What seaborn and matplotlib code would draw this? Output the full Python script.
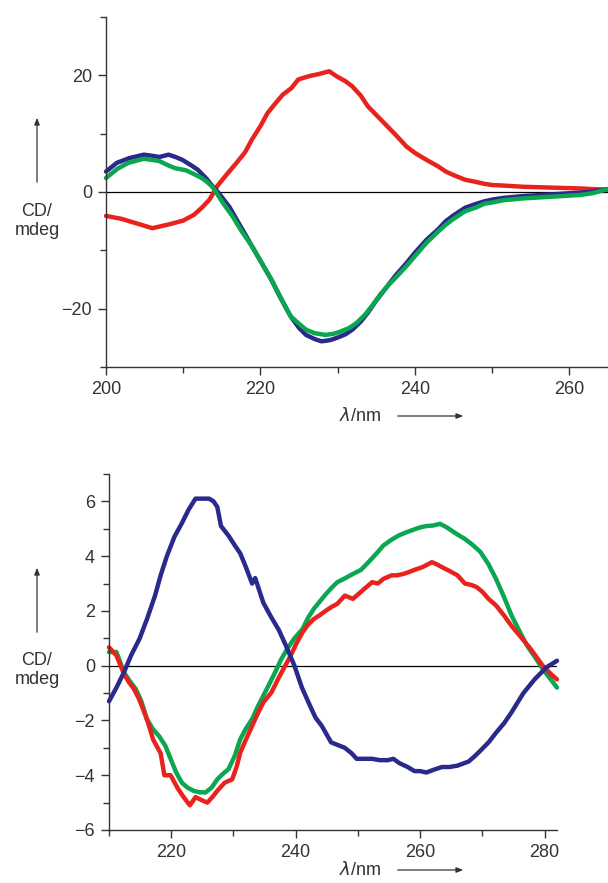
import matplotlib

matplotlib.use("Agg")
import matplotlib.pyplot as plt  # noqa: E402
import seaborn as sns  # noqa: E402
import pandas as pd  # noqa: E402
from matplotlib.ticker import MultipleLocator  # noqa: E402

# --- top panel data (lambda / nm, CD / mdeg) ---
top_red_x = [200, 202, 204, 206, 208, 210, 211.4, 212.4, 213.4, 214.4, 215.5, 216.9, 218, 218.9,
             220, 220.9, 222, 222.9, 224, 224.9, 226.4, 227.5, 228.9, 229.9, 231, 231.9, 233,
             233.9, 235, 236.4, 237.5, 238.9, 240, 241.5, 243, 244, 245, 246.5, 248, 249, 250,
             251.5, 254, 256.5, 259, 261.5, 263, 265]
top_red_y = [-4.1, -4.6, -5.4, -6.2, -5.6, -4.9, -3.9, -2.7, -1.3, 1.0, 2.8, 5.0, 6.8, 9.0,
             11.3, 13.5, 15.3, 16.7, 17.8, 19.3, 19.9, 20.2, 20.7, 19.8, 19.0, 18.1, 16.5,
             14.7, 13.2, 11.3, 9.8, 7.8, 6.7, 5.5, 4.4, 3.5, 2.9, 2.1, 1.7, 1.4, 1.2,
             1.1, 0.9, 0.8, 0.7, 0.6, 0.5, 0.4]

top_blue_x = [200, 201.4, 203, 204.9, 206, 206.9, 208.1, 209, 209.9, 211, 211.9, 213, 213.6,
              214.6, 216, 216.9, 218, 218.9, 220, 221.4, 222.5, 223.9, 225, 225.9, 227, 227.9,
              229, 229.9, 231, 231.9, 233, 233.9, 235, 236.4, 237.5, 238.9, 240, 241.5, 243,
              244, 245, 246.5, 248, 249, 250, 251.5, 254, 256.5, 259, 261.5, 263, 265]
top_blue_y = [3.5, 5.0, 5.8, 6.4, 6.2, 6.0, 6.4, 6.0, 5.5, 4.6, 3.8, 2.3, 1.3,
              -0.2, -2.6, -4.7, -7.2, -9.3, -11.8, -15.0, -17.9, -21.3, -23.3, -24.5, -25.2, -25.6,
              -25.4, -25.0, -24.4, -23.6, -22.2, -20.7, -18.6, -16.2, -14.3, -12.2, -10.4, -8.2, -6.4,
              -5.0, -4.0, -2.7, -2.0, -1.6, -1.3, -1.0, -0.7, -0.5, -0.3, -0.1, 0.1, 0.5]

top_green_x = [200, 201.5, 202.9, 204.9, 206, 206.9, 208, 208.9, 210.4, 211.5, 212.4, 213.2,
               213.9, 215, 216.4, 217.5, 218.9, 220, 221.4, 222.5, 223.9, 225, 225.9, 227,
               228.4, 229.5, 230.4, 231.5, 232.4, 233.5, 234.4, 235.5, 236.4, 237.5, 238.9,
               240, 241.5, 243, 244, 245, 246.5, 248, 249, 250, 251.5, 254, 256.5, 259,
               261.5, 263, 265]
top_green_y = [2.4, 4.0, 5.0, 5.7, 5.5, 5.3, 4.6, 4.1, 3.7, 3.0, 2.4, 1.6,
               0.7, -1.6, -4.2, -6.6, -9.3, -11.8, -15.0, -17.8, -21.3, -22.6, -23.6, -24.2,
               -24.5, -24.3, -23.9, -23.3, -22.5, -21.1, -19.6, -17.6, -16.2, -14.7, -12.7,
               -11.0, -8.7, -6.8, -5.6, -4.6, -3.3, -2.6, -2.0, -1.8, -1.4, -1.1, -0.9, -0.7,
               -0.5, -0.2, 0.5]

# --- bottom panel data ---
bot_blue_x = [210, 211.2, 212.4, 213.6, 214.9, 216.1, 217.4, 218.3, 219.3, 220.5, 221.7, 222.8,
              223.9, 225, 226.1, 226.8, 227.4, 228, 229.2, 230.2, 231.1, 232, 233, 233.5, 234.8,
              236, 237.3, 238.5, 239.8, 241, 242.3, 243.2, 244.2, 245.7, 246.8, 247.9, 249,
              249.8, 251, 252.3, 253.5, 254.8, 255.7, 256.6, 258, 259.1, 260, 261, 262.2,
              263.5, 264.7, 266, 267.8, 268.8, 269.7, 271, 272.2, 273.5, 274.7, 276.6, 278.4,
              280.3, 282]
bot_blue_y = [-1.3, -0.8, -0.24, 0.4, 0.98, 1.7, 2.56, 3.3, 4.0, 4.7, 5.2, 5.7,
              6.1, 6.1, 6.1, 6.0, 5.8, 5.1, 4.75, 4.4, 4.1, 3.6, 3.0, 3.2, 2.3,
              1.8, 1.3, 0.7, 0.0, -0.8, -1.46, -1.9, -2.2, -2.8, -2.9, -3.0, -3.2,
              -3.4, -3.4, -3.4, -3.45, -3.45, -3.4, -3.55, -3.7, -3.85, -3.85, -3.9, -3.8,
              -3.7, -3.7, -3.65, -3.5, -3.3, -3.1, -2.8, -2.45, -2.1, -1.7, -1.0, -0.5,
              -0.06, 0.18]

bot_green_x = [210, 211.2, 212.4, 213.3, 214.3, 215.2, 216.1, 217, 218, 219, 219.9, 220.8,
               221.7, 222.6, 223.6, 224.5, 225.5, 226.5, 227.4, 228.3, 229.2, 230.2, 231.1,
               232, 233, 233.9, 234.8, 235.8, 236.7, 237.6, 238.6, 239.8, 241.1, 242, 242.9,
               243.9, 244.8, 245.8, 246.7, 248, 249.2, 250.5, 251.7, 253, 254.1, 255.4, 256.6,
               257.9, 259.1, 260, 261, 262.1, 263.2, 264.3, 265.4, 266.3, 267.2, 268.5,
               269.7, 271, 272.2, 273.5, 274.7, 276, 277.2, 278.5, 279.7, 281, 282]
bot_green_y = [0.5, 0.5, -0.24, -0.55, -0.85, -1.3, -1.95, -2.3, -2.56, -2.9, -3.4, -3.9,
               -4.27, -4.45, -4.57, -4.62, -4.63, -4.45, -4.15, -3.95, -3.78, -3.3, -2.68,
               -2.3, -1.95, -1.5, -1.1, -0.65, -0.24, 0.2, 0.6, 1.0, 1.34, 1.75, 2.07,
               2.35, 2.6, 2.85, 3.05, 3.2, 3.35, 3.5, 3.78, 4.1, 4.39, 4.6, 4.76,
               4.88, 4.98, 5.05, 5.1, 5.12, 5.18, 5.05, 4.88, 4.75, 4.63, 4.4,
               4.15, 3.7, 3.17, 2.5, 1.83, 1.25, 0.73, 0.3, -0.12, -0.5, -0.8]

bot_red_x = [210, 211.2, 212.4, 213.2, 214, 214.8, 215.5, 216.3, 217.1, 218.3, 218.9, 219.9,
             221.1, 222, 223, 223.9, 224.8, 225.8, 226.6, 227.4, 228.6, 229.8, 230.5, 231.1,
             232, 233, 233.9, 234.8, 236.1, 237.3, 238.2, 239.2, 240.1, 241.1, 242, 242.9,
             243.9, 244.8, 245.8, 246.7, 247.9, 249.2, 250, 251, 252.3, 253.2, 254.1, 255.4,
             256.3, 257.3, 258.2, 259.1, 260.4, 261.9, 262.7, 263.5, 264.8, 266, 267.2,
             268.2, 269.1, 270, 271, 272.2, 273.5, 274.7, 276, 277.8, 279.7, 281, 282]
bot_red_y = [0.67, 0.37, -0.3, -0.6, -0.85, -1.2, -1.6, -2.1, -2.7, -3.2, -4.0, -4.0,
             -4.5, -4.8, -5.1, -4.8, -4.9, -5.0, -4.8, -4.57, -4.27, -4.15, -3.7, -3.17,
             -2.7, -2.2, -1.75, -1.34, -0.98, -0.43, -0.05, 0.37, 0.8, 1.22, 1.5, 1.7,
             1.85, 2.0, 2.15, 2.26, 2.56, 2.44, 2.6, 2.8, 3.05, 3.0, 3.17, 3.3,
             3.3, 3.35, 3.42, 3.5, 3.6, 3.78, 3.7, 3.6, 3.45, 3.3, 3.0,
             2.95, 2.87, 2.7, 2.44, 2.2, 1.83, 1.45, 1.1, 0.6, 0.0, -0.3, -0.5]

RED = "#e8231e"
BLUE = "#2a2a8c"
GREEN = "#0aa650"
INK = "#333333"
LW = 3.2
FS = 13

sns.set_theme(style="ticks")
plt.rcParams["font.family"] = ["Liberation Sans", "DejaVu Sans"]
plt.rcParams["font.size"] = FS

W, H = 608, 883
fig = plt.figure(figsize=(W / 100, H / 100), dpi=100)


def px_axes(left, top, right, bottom):
    return fig.add_axes([left / W, 1 - bottom / H, (right - left) / W, (bottom - top) / H])


def draw(ax, series):
    for xs, ys, color in series:
        df = pd.DataFrame({"x": xs, "y": ys})
        sns.lineplot(data=df, x="x", y="y", color=color, lw=LW, ax=ax,
                     sort=False, estimator=None, clip_on=False)
    ax.axhline(0, color="black", lw=0.9, zorder=0)
    sns.despine(ax=ax)
    ax.set_xlabel("")
    ax.set_ylabel("")
    ax.tick_params(axis="both", which="major", direction="out", length=6, width=1,
                   pad=4, labelsize=FS, color=INK, labelcolor=INK)
    ax.tick_params(axis="both", which="minor", direction="out", length=4, width=1,
                   color=INK)
    for s in ("left", "bottom"):
        ax.spines[s].set_color(INK)
        ax.spines[s].set_linewidth(1.0)


def side_labels(y_arrow_top, y_arrow_bot, y_text, y_xlabel):
    fig.text(37 / W, 1 - y_text / H, "CD/\nmdeg", ha="center", va="center",
             fontsize=FS, linespacing=1.2, color=INK)
    fig.patches.append(matplotlib.patches.FancyArrowPatch(
        (37 / W, 1 - y_arrow_bot / H), (37 / W, 1 - y_arrow_top / H),
        transform=fig.transFigure, arrowstyle="-|>,head_length=4,head_width=1.6",
        color=INK, lw=0.9))
    fig.text(360 / W, 1 - y_xlabel / H, r"$\it{\lambda}$/nm", ha="center", va="center",
             fontsize=FS, color=INK)
    fig.patches.append(matplotlib.patches.FancyArrowPatch(
        (395 / W, 1 - y_xlabel / H), (466 / W, 1 - y_xlabel / H),
        transform=fig.transFigure, arrowstyle="-|>,head_length=4,head_width=1.6",
        color=INK, lw=0.9))


# top panel
ax1 = px_axes(106, 17, 608, 367)
draw(ax1, [(top_red_x, top_red_y, RED), (top_blue_x, top_blue_y, BLUE),
           (top_green_x, top_green_y, GREEN)])
ax1.set_xlim(200, 265)
ax1.set_ylim(-30, 30)
ax1.set_xticks([200, 220, 240, 260])
ax1.set_yticks([-20, 0, 20])
ax1.set_yticklabels(["\u221220", "0", "20"])
ax1.xaxis.set_minor_locator(MultipleLocator(10))
ax1.yaxis.set_minor_locator(MultipleLocator(10))
side_labels(115, 185, 221, 416)

# bottom panel
ax2 = px_axes(109, 474, 557, 830)
draw(ax2, [(bot_green_x, bot_green_y, GREEN), (bot_red_x, bot_red_y, RED),
           (bot_blue_x, bot_blue_y, BLUE)])
ax2.set_xlim(210, 282)
ax2.set_ylim(-6, 7)
ax2.set_xticks([220, 240, 260, 280])
ax2.set_yticks([-6, -4, -2, 0, 2, 4, 6])
ax2.set_yticklabels(["\u22126", "\u22124", "\u22122", "0", "2", "4", "6"])
ax2.xaxis.set_minor_locator(MultipleLocator(10))
ax2.yaxis.set_minor_locator(MultipleLocator(1))
side_labels(565, 635, 670, 870)

fig.savefig("out.png", dpi=100)
